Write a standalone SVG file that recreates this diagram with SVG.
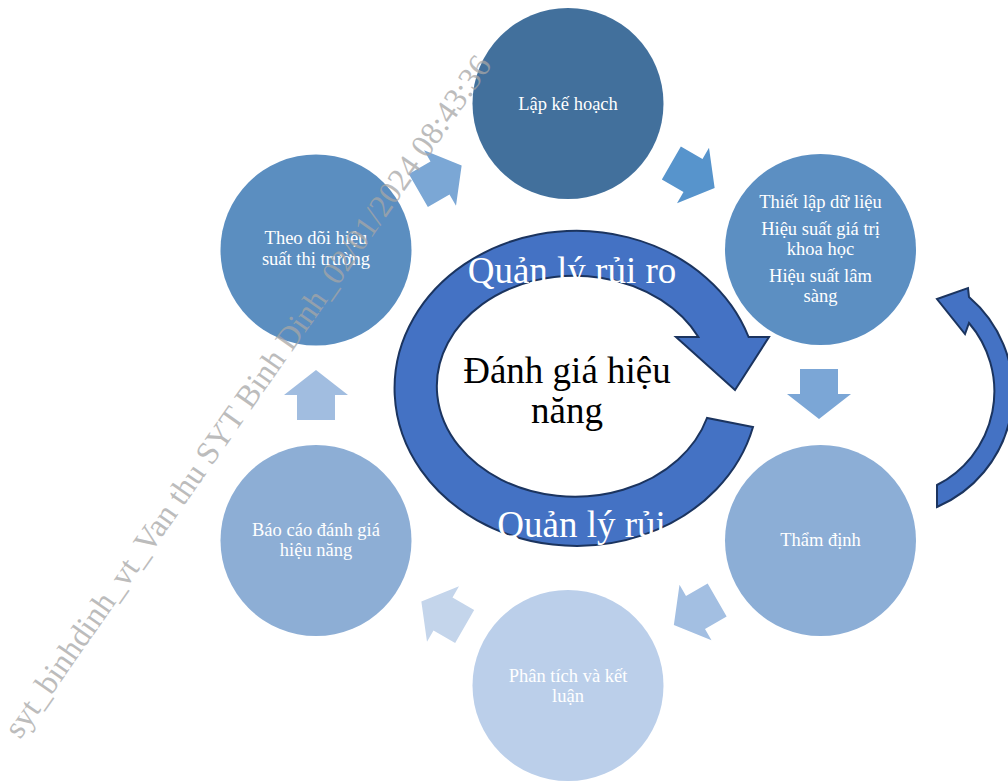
<svg xmlns="http://www.w3.org/2000/svg" width="1008" height="783" viewBox="0 0 1008 783">
<style>
.ct{font-family:"Liberation Serif","Times New Roman",serif;font-size:18.5px;fill:#ffffff;text-anchor:middle}
.big{font-family:"Liberation Serif","Times New Roman",serif;font-size:37px;text-anchor:middle}
.ring{fill:#4472C4;stroke:#1B345F;stroke-width:2;stroke-linejoin:miter}
.wm{font-family:"Liberation Serif","Times New Roman",serif;font-size:32.3px;fill:#A6A6A6;opacity:0.75}
</style>
<defs>
<polygon id="blk" points="-25,-19 0,-19 0,-32 25,0 0,32 0,19 -25,19"/>
</defs>
<rect width="1008" height="783" fill="#ffffff"/>

<g id="connectors">
<use href="#blk" fill="#7BA7D5" transform="translate(440,178) rotate(-30)"/>
<use href="#blk" fill="#5794CC" transform="translate(693,175.5) rotate(30)"/>
<use href="#blk" fill="#7BA6D6" transform="translate(819,394) rotate(90)"/>
<use href="#blk" fill="#A3BFE2" transform="translate(695.5,612.5) rotate(150)"/>
<use href="#blk" fill="#C4D5EB" transform="translate(443,614) rotate(210)"/>
<use href="#blk" fill="#A1BDE0" transform="translate(316,395) rotate(-90)"/>
</g>

<g id="node-lap-ke-hoach">
<circle cx="568" cy="103.5" r="95.5" fill="#42709C"/>
<text class="ct" x="568" y="110">Lập kế hoạch</text>
</g>

<g id="node-thiet-lap">
<circle cx="820.5" cy="249.5" r="95.5" fill="#5C8FC2"/>
<text class="ct" x="820.5" y="208">Thiết lập dữ liệu</text>
<text class="ct" x="820.5" y="235">Hiệu suất giá trị</text>
<text class="ct" x="820.5" y="255">khoa học</text>
<text class="ct" x="820.5" y="282">Hiệu suất lâm</text>
<text class="ct" x="820.5" y="302">sàng</text>
</g>

<g id="node-tham-dinh">
<circle cx="820.5" cy="540.5" r="95.5" fill="#8CAED6"/>
<text class="ct" x="820.5" y="546">Thẩm định</text>
</g>

<g id="node-phan-tich">
<circle cx="568" cy="685.5" r="95.5" fill="#BBCFEA"/>
<text class="ct" x="568" y="682">Phân tích và kết</text>
<text class="ct" x="568" y="702">luận</text>
</g>

<g id="node-bao-cao">
<circle cx="316" cy="540.5" r="95.5" fill="#8DAED5"/>
<text class="ct" x="316" y="536">Báo cáo đánh giá</text>
<text class="ct" x="316" y="556">hiệu năng</text>
</g>

<g id="node-theo-doi">
<circle cx="316" cy="250" r="95.5" fill="#5B8EC0"/>
<text class="ct" x="316" y="244">Theo dõi hiệu</text>
<text class="ct" x="316" y="265">suất thị trường</text>
</g>

<g id="node-center">
<path class="ring" d="M748.6,337 L769,337 L735,390 L676,337 L698.4,337 A138,110.5 0 1 0 707,418 L753,427 A182,157.5 0 1 1 748.6,337 Z"/>
<text class="big" x="572" y="283" fill="#ffffff">Quản lý rủi ro</text>
<text class="big" x="581.5" y="537" fill="#ffffff">Quản lý rủi</text>
<text class="big" x="567" y="383" fill="#000000">Đánh giá hiệu</text>
<text class="big" x="567" y="423" fill="#000000">năng</text>
</g>

<g id="node-right-arrow">
<path class="ring" d="M937,507 L937,485 A105,105 0 0 0 969,323 L965,334 L937,299 L968,288 L969,297 A125,125 0 0 1 937,507 Z"/>
</g>

<g id="watermark">
<text class="wm" x="20" y="740" transform="rotate(-55 20 740)">syt_binhdinh_vt_Van thu SYT Binh Dinh_02/01/2024 08:43:36</text>
</g>
</svg>
